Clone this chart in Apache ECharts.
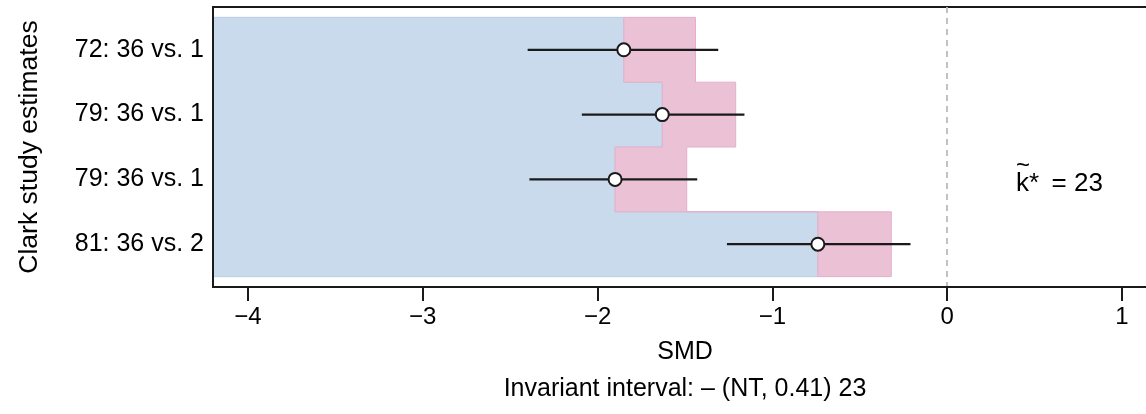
<!DOCTYPE html>
<html>
<head>
<meta charset="utf-8">
<script src="https://cdn.jsdelivr.net/npm/echarts@6/dist/echarts.min.js"></script>
<style>
html,body{margin:0;padding:0;background:#fff;overflow:hidden;width:1146px;height:414px;}
#chart{width:1157px;height:414px;}
</style>
</head>
<body>
<div id="chart"></div>
<script>
// ---- data ----
const studyLabels = ['72: 36 vs. 1', '79: 36 vs. 1', '79: 36 vs. 1', '81: 36 vs. 2'];
const rowPos = [1, 2, 3, 4];
const estimates = [-1.85, -1.63, -1.90, -0.74];
const ciLower = [-2.40, -2.09, -2.39, -1.26];
const ciUpper = [-1.31, -1.16, -1.43, -0.21];
const invariantUpper = [-1.44, -1.21, -1.49, -0.32];
const xTicks = [-4, -3, -2, -1, 0, 1];
const xMin = -4.2, xMax = 1.2;
const yMin = 0.34, yMax = 4.66;
const kBody = 'k*\u2009 = 23';
const kTilde = '~';
const subtitle = 'Invariant interval: \u2013 (NT, 0.41) 23';

const FONT = '"Liberation Sans", Arial, Helvetica, sans-serif';
const INK = '#1a1a1a';

function fmtTick(v) { return v < 0 ? '\u2212' + Math.abs(v) : String(v); }

function bluePoly() {
  const pts = [[xMin, rowPos[0] - 0.5]];
  for (let i = 0; i < rowPos.length; i++) {
    pts.push([estimates[i], rowPos[i] - 0.5]);
    pts.push([estimates[i], rowPos[i] + 0.5]);
  }
  pts.push([xMin, rowPos[rowPos.length - 1] + 0.5]);
  return pts;
}
function pinkPoly() {
  const pts = [];
  for (let i = 0; i < rowPos.length; i++) {
    pts.push([invariantUpper[i], rowPos[i] - 0.5]);
    pts.push([invariantUpper[i], rowPos[i] + 0.5]);
  }
  for (let i = rowPos.length - 1; i >= 0; i--) {
    pts.push([estimates[i], rowPos[i] + 0.5]);
    pts.push([estimates[i], rowPos[i] - 0.5]);
  }
  return pts;
}

function polySeries(name, pts, fill, stroke) {
  return {
    type: 'custom', name: name, silent: true, z: 1,
    data: [0],
    renderItem: function (params, api) {
      return {
        type: 'polygon',
        shape: { points: pts.map(p => api.coord(p)) },
        style: { fill: fill, stroke: stroke, lineWidth: 1 }
      };
    }
  };
}

const chart = echarts.init(document.getElementById('chart'), null, { renderer: 'canvas' });

const option = {
  animation: false,
  backgroundColor: '#fff',
  title: {
    text: subtitle,
    left: 685, top: 377, textAlign: 'center', padding: 0,
    textStyle: { fontFamily: FONT, fontSize: 25, fontWeight: 'normal', color: '#000', lineHeight: 25 }
  },
  grid: { left: 213, right: 0, top: 7, bottom: 127, show: true, borderColor: INK, borderWidth: 2, backgroundColor: 'transparent' },
  xAxis: {
    type: 'value', min: xMin, max: xMax, z: 10,
    name: 'SMD', nameLocation: 'middle', nameGap: 53,
    nameTextStyle: { fontFamily: FONT, fontSize: 25, color: '#000', lineHeight: 25 },
    axisLine: { show: true, onZero: false, lineStyle: { color: INK, width: 2 } },
    axisTick: { show: true, customValues: xTicks, length: 14, lineStyle: { color: INK, width: 2 } },
    axisLabel: { customValues: xTicks, formatter: fmtTick, margin: 18, fontFamily: FONT, fontSize: 24, color: '#000', lineHeight: 24 },
    splitLine: { show: false }
  },
  yAxis: {
    type: 'value', min: yMin, max: yMax, inverse: true, z: 10,
    name: 'Clark study estimates', nameLocation: 'middle', nameGap: 170, nameRotate: 90,
    nameTextStyle: { fontFamily: FONT, fontSize: 26.5, color: '#000' },
    axisLine: { show: true, onZero: false, lineStyle: { color: INK, width: 2 } },
    axisTick: { show: false },
    axisLabel: {
      customValues: rowPos, margin: 9, fontFamily: FONT, fontSize: 25, color: '#000',
      formatter: function (v) { return studyLabels[rowPos.indexOf(Math.round(v))] || ''; }
    },
    splitLine: { show: false }
  },
  graphic: [
    {
      type: 'text', x: 1016, y: 184, z: 100,
      style: { text: kBody, fontFamily: FONT, fontSize: 26, fill: '#000', align: 'left', verticalAlign: 'middle' }
    },
    {
      type: 'text', x: 1023, y: 166, z: 100,
      style: { text: kTilde, fontFamily: FONT, fontSize: 24, fill: '#000', align: 'center', verticalAlign: 'middle' }
    }
  ],
  series: [
    polySeries('below', bluePoly(), '#C9DAEC', '#B8CDE6'),
    polySeries('invariant', pinkPoly(), '#EBC1D5', '#E5AECA'),
    {
      type: 'custom', name: 'ci', z: 5, silent: true,
      data: rowPos.map((y, i) => [ciLower[i], ciUpper[i], y]),
      renderItem: function (params, api) {
        const a = api.coord([api.value(0), api.value(2)]);
        const b = api.coord([api.value(1), api.value(2)]);
        return { type: 'line', shape: { x1: a[0], y1: a[1], x2: b[0], y2: b[1] }, style: { stroke: INK, lineWidth: 2.2 } };
      },
      markLine: {
        silent: true, symbol: ['none', 'none'], label: { show: false },
        lineStyle: { color: '#BBBBBB', type: [6, 5], width: 1.8 },
        data: [{ xAxis: 0 }]
      }
    },
    {
      type: 'scatter', name: 'estimate', z: 6, silent: true,
      data: rowPos.map((y, i) => [estimates[i], y]),
      symbol: 'circle', symbolSize: 13,
      itemStyle: { color: '#fff', borderColor: INK, borderWidth: 2, opacity: 1 }
    }
  ]
};
chart.setOption(option);
</script>
</body>
</html>
